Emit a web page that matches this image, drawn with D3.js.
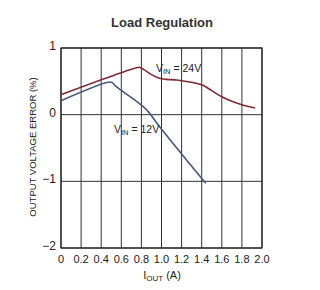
<!DOCTYPE html>
<html><head><meta charset="utf-8">
<script src="https://cdn.jsdelivr.net/npm/d3@7"></script>
<style>body{margin:0;background:#fff}svg{display:block}</style>
</head><body>
<script>
const xTicks = [0,0.2,0.4,0.6,0.8,1.0,1.2,1.4,1.6,1.8,2.0];
const yTicks = [1,0,-1,-2];
const iout24 = [0,0.74,0.78,0.82,0.90,0.98,1.05,1.15,1.28,1.41,1.50,1.61,1.70,1.80,1.93];
const err24  = [0.30,0.70,0.71,0.68,0.60,0.545,0.53,0.52,0.49,0.44,0.36,0.26,0.20,0.15,0.10];
const iout12 = [0,0.48,0.51,0.55,0.84,0.985,1.13,1.44];
const err12  = [0.21,0.49,0.48,0.42,0.09,-0.19,-0.46,-1.03];

const W=320,H=290, L=61,R=262,T=48,B=248;
const svg=d3.select("body").append("svg").attr("width",W).attr("height",H);
const x=d3.scaleLinear().domain([0,2]).range([L,R]);
const y=d3.scaleLinear().domain([-2,1]).range([B,T]);
const font="'Liberation Sans Narrow','Liberation Sans',Arial,sans-serif";

svg.append("text").attr("x",162).attr("y",27).attr("text-anchor","middle")
  .attr("font-family",font).attr("font-weight","bold").attr("font-size",13).attr("fill","#333").text("Load Regulation");

const g=svg.append("g");
g.selectAll(".vg").data(xTicks).join("line").attr("x1",d=>x(d)).attr("x2",d=>x(d)).attr("y1",T).attr("y2",B).attr("stroke","#333").attr("stroke-width",1);
g.selectAll(".hg").data(yTicks).join("line").attr("y1",d=>y(d)).attr("y2",d=>y(d)).attr("x1",L).attr("x2",R).attr("stroke","#333").attr("stroke-width",1);
g.append("rect").attr("x",L).attr("y",T).attr("width",R-L).attr("height",B-T).attr("fill","none").attr("stroke","#222").attr("stroke-width",1.2);

svg.selectAll(".xl").data(xTicks).join("text").attr("x",d=>x(d)).attr("y",263).attr("text-anchor","middle")
  .attr("font-family",font).attr("font-size",11).attr("fill","#222").text(d=>d===0?"0":d.toFixed(1));
svg.selectAll(".yl").data(yTicks).join("text").attr("x",56).attr("y",d=>y(d)+2).attr("text-anchor","end")
  .attr("font-family",font).attr("font-size",12).attr("fill","#222").text(d=>d<0?"\u2212"+(-d):d);

const xt=svg.append("text").attr("x",162).attr("y",279).attr("text-anchor","middle").attr("font-family",font).attr("font-size",11).attr("fill","#222");
xt.append("tspan").text("I");
xt.append("tspan").attr("font-size",8).attr("dy",2).text("OUT");
xt.append("tspan").attr("dy",-2).text(" (A)");

svg.append("text").attr("transform","translate(36,147) rotate(-90)").attr("text-anchor","middle")
  .attr("font-family",font).attr("font-size",9.5).attr("fill","#222").text("OUTPUT VOLTAGE ERROR (%)");

const line=d3.line().x(d=>x(d[0])).y(d=>y(d[1])).curve(d3.curveCatmullRom.alpha(0.5));
svg.append("path").attr("d",line(iout24.map((v,i)=>[v,err24[i]]))).attr("fill","none").attr("stroke","#7e2a35").attr("stroke-width",1.6);
svg.append("path").attr("d",line(iout12.map((v,i)=>[v,err12[i]]))).attr("fill","none").attr("stroke","#45597a").attr("stroke-width",1.6);

function vlabel(xp,yp,txt){
  const t=svg.append("text").attr("x",xp).attr("y",yp).attr("font-family",font).attr("font-size",10.5).attr("fill","#222");
  t.append("tspan").text("V");
  t.append("tspan").attr("font-size",7.5).attr("dy",2).text("IN");
  t.append("tspan").attr("dy",-2).text(" = "+txt);
}
vlabel(156,72,"24V");
vlabel(114,133,"12V");
</script>
</body></html>
